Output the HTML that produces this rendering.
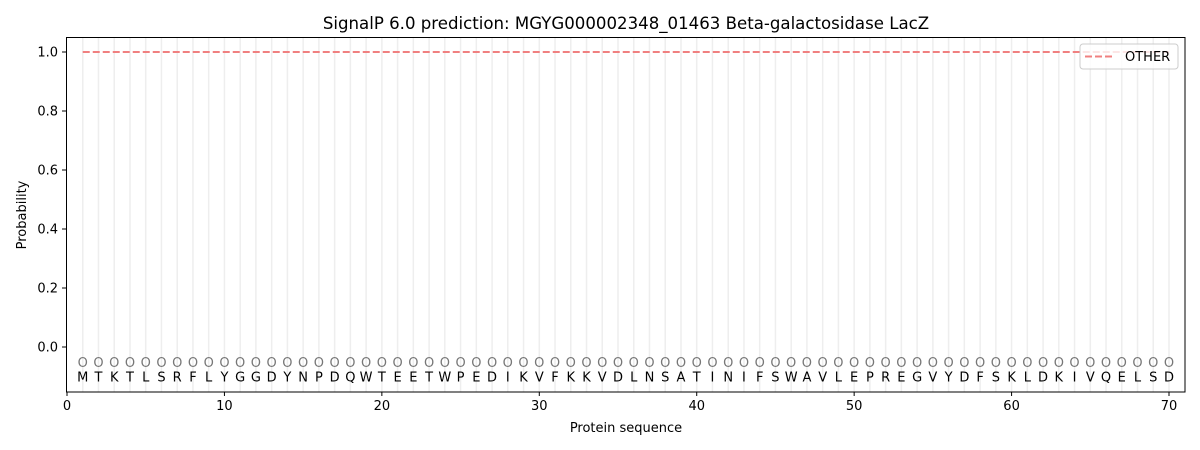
<!DOCTYPE html>
<html><head><meta charset="utf-8"><style>body{margin:0;background:#fff}svg{display:block}</style></head>
<body>
<svg id="s" width="1200" height="450" xmlns="http://www.w3.org/2000/svg" font-family="DejaVu Sans, Liberation Sans, sans-serif">
<rect width="1200" height="450" fill="#fff"/>
<g id="g"></g>
<rect x="66.5" y="37.5" width="1118.5" height="354.5" fill="none" stroke="#000" stroke-width="1"/>
<text x="626" y="29" font-size="16.6" text-anchor="middle">SignalP 6.0 prediction: MGYG000002348_01463 Beta-galactosidase LacZ</text>
<text x="626" y="432" font-size="13" text-anchor="middle">Protein sequence</text>
<text x="26" y="215" font-size="13" text-anchor="middle" transform="rotate(-90 26 215)">Probability</text>
<g>
<rect x="1080" y="44" width="98" height="25" rx="3" fill="#fff" fill-opacity="0.8" stroke="#ccc"/>
<line x1="1085" y1="56.5" x2="1113" y2="56.5" stroke="#f08080" stroke-width="2" stroke-dasharray="7,3"/>
<text x="1125" y="61" font-size="13">OTHER</text>
</g>
</svg>
<script>
const g=document.getElementById('g');const seq="MTKTLSRFLYGGDYNPDQWTEETWPEDIKVFKKVDLNSATINIFSWAVLEPREGVYDFSKLDKIVQELSD";
const X=v=>67+v*15.743, Y=v=>347-v*295;let h='';
for(let i=1;i<=70;i++){h+=`<line x1="${X(i)}" y1="38" x2="${X(i)}" y2="392" stroke="#eee" stroke-width="1.5"/>`;}
h+=`<line x1="${X(1)}" y1="${Y(1)}" x2="${X(70)}" y2="${Y(1)}" stroke="#f08080" stroke-width="2" stroke-dasharray="7,3"/>`;
for(let i=1;i<=70;i++){h+=`<text x="${X(i)}" y="${Y(-0.05)+5}" font-size="13" fill="#777" text-anchor="middle">O</text>`;
h+=`<text x="${X(i)}" y="${Y(-0.1)+5}" font-size="13" text-anchor="middle">${seq[i-1]}</text>`;}
for(let k=0;k<=70;k+=10){h+=`<line x1="${X(k)}" y1="392" x2="${X(k)}" y2="396" stroke="#000"/><text x="${X(k)}" y="410" font-size="13" text-anchor="middle">${k}</text>`;}
for(let k=0;k<=5;k++){const v=k*0.2;h+=`<line x1="62" y1="${Y(v)}" x2="66.5" y2="${Y(v)}" stroke="#000"/><text x="58" y="${Y(v)+4.5}" font-size="13" text-anchor="end">${v.toFixed(1)}</text>`;}
g.innerHTML=h;
</script>
</body></html>
